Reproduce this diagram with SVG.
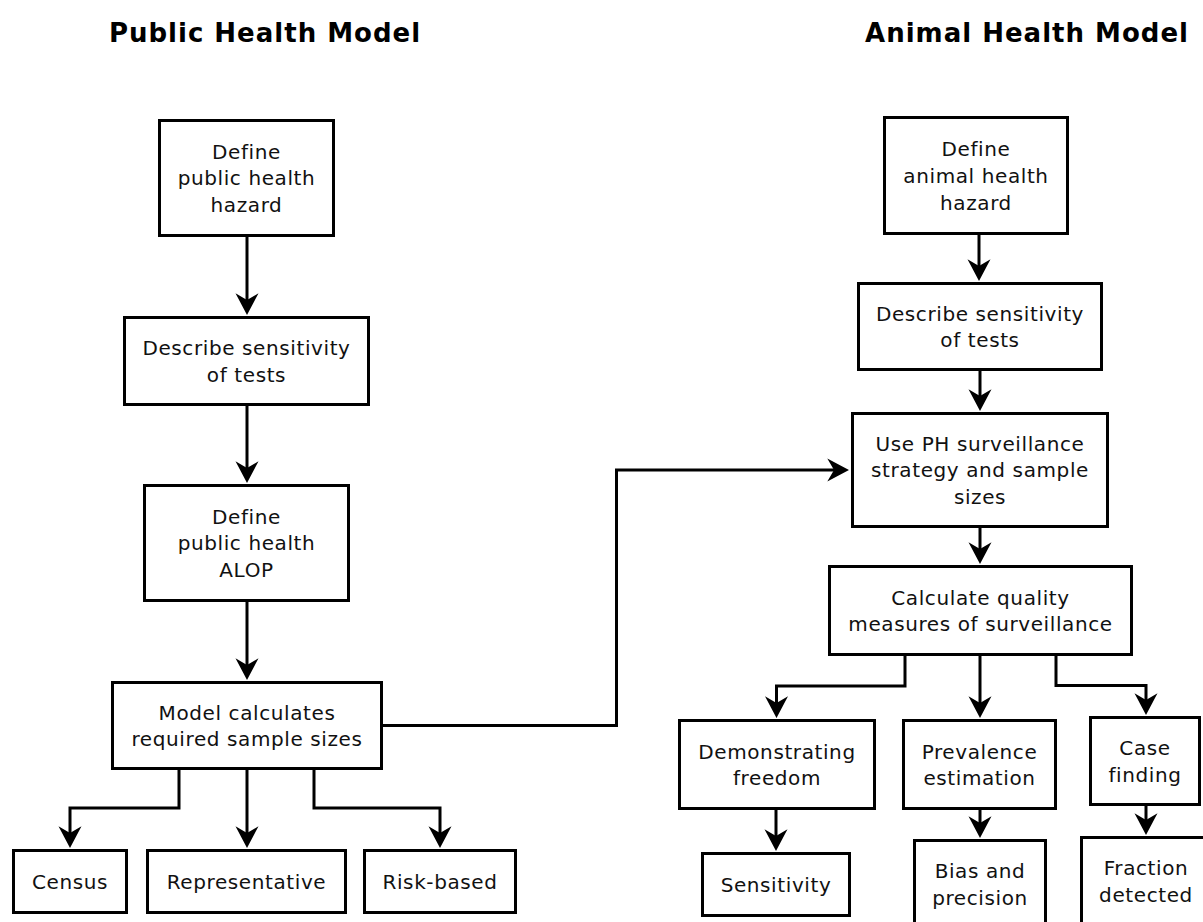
<svg xmlns="http://www.w3.org/2000/svg" xmlns:xlink="http://www.w3.org/1999/xlink" width="1203" height="922" viewBox="0 0 1203 922">
<style>
  .box { fill: #ffffff; stroke: #000000; stroke-width: 3; }
  .t { font-family: "DejaVu Sans", "Liberation Sans", sans-serif; font-size: 20px; letter-spacing: 0.6px; fill: #111111; text-anchor: middle; }
  .title { font-family: "DejaVu Sans", "Liberation Sans", sans-serif; font-size: 26px; font-weight: bold; letter-spacing: 1px; fill: #000000; text-anchor: middle; }
  .ln { fill: none; stroke: #000000; stroke-width: 3; stroke-linejoin: miter; }
  .ah { fill: #000000; stroke: none; }
</style>
<defs>
  <path id="ahd" class="ah" d="M0,0 L-11.5,-21.7 L0,-15 L11.5,-21.7 Z"/>
  <path id="ahr" class="ah" d="M0,0 L-21.7,-11.5 L-15,0 L-21.7,11.5 Z"/>
</defs>
<rect x="0" y="0" width="1203" height="922" fill="#ffffff"/>

<g id="titles">
  <text class="title" x="265" y="42">Public Health Model</text>
  <text class="title" x="1027" y="42">Animal Health Model</text>
</g>

<g id="connectors">
  <!-- left column -->
  <path class="ln" d="M247,237 V302"/>
  <use xlink:href="#ahd" x="247" y="315"/>
  <path class="ln" d="M247,406 V470"/>
  <use xlink:href="#ahd" x="247" y="483"/>
  <path class="ln" d="M247,602 V667"/>
  <use xlink:href="#ahd" x="247" y="680"/>
  <path class="ln" d="M179,770 V808 H70 V835"/>
  <use xlink:href="#ahd" x="70" y="848"/>
  <path class="ln" d="M247,770 V835"/>
  <use xlink:href="#ahd" x="247" y="848"/>
  <path class="ln" d="M314,770 V808 H440 V835"/>
  <use xlink:href="#ahd" x="440" y="848"/>
  <path class="ln" d="M383,725.5 H616.5 V470 H836"/>
  <use xlink:href="#ahr" x="849" y="470"/>
  <!-- right column -->
  <path class="ln" d="M979,235 V268"/>
  <use xlink:href="#ahd" x="979" y="281"/>
  <path class="ln" d="M980,371 V398"/>
  <use xlink:href="#ahd" x="980" y="411"/>
  <path class="ln" d="M980,528 V551"/>
  <use xlink:href="#ahd" x="980" y="564"/>
  <path class="ln" d="M905,656 V686 H776.5 V705"/>
  <use xlink:href="#ahd" x="776.5" y="718"/>
  <path class="ln" d="M980,656 V705"/>
  <use xlink:href="#ahd" x="980" y="718"/>
  <path class="ln" d="M1056,656 V685.5 H1146 V702"/>
  <use xlink:href="#ahd" x="1146" y="715"/>
  <path class="ln" d="M776,810 V838"/>
  <use xlink:href="#ahd" x="776" y="851"/>
  <path class="ln" d="M980,810 V825"/>
  <use xlink:href="#ahd" x="980" y="838"/>
  <path class="ln" d="M1146,806 V822"/>
  <use xlink:href="#ahd" x="1146" y="835"/>
</g>

<g id="ph-hazard">
  <rect class="box" x="159.5" y="120.5" width="174" height="115"/>
  <text class="t" x="246.5" y="158.6">Define</text>
  <text class="t" x="246.5" y="185.3">public health</text>
  <text class="t" x="246.5" y="212">hazard</text>
</g>
<g id="ph-sensitivity">
  <rect class="box" x="124.5" y="317.5" width="244" height="87"/>
  <text class="t" x="246.5" y="355">Describe sensitivity</text>
  <text class="t" x="246.5" y="381.7">of tests</text>
</g>
<g id="ph-alop">
  <rect class="box" x="144.5" y="485.5" width="204" height="115"/>
  <text class="t" x="246.5" y="523.6">Define</text>
  <text class="t" x="246.5" y="550.3">public health</text>
  <text class="t" x="246.5" y="577">ALOP</text>
</g>
<g id="ph-model">
  <rect class="box" x="112.5" y="682.5" width="269" height="86"/>
  <text class="t" x="247" y="719.5">Model calculates</text>
  <text class="t" x="247" y="746.2">required sample sizes</text>
</g>
<g id="census">
  <rect class="box" x="13.5" y="850.5" width="113" height="62"/>
  <text class="t" x="70" y="888.8">Census</text>
</g>
<g id="representative">
  <rect class="box" x="147.5" y="850.5" width="198" height="62"/>
  <text class="t" x="246.5" y="888.8">Representative</text>
</g>
<g id="risk-based">
  <rect class="box" x="364.5" y="850.5" width="151" height="62"/>
  <text class="t" x="440" y="888.8">Risk-based</text>
</g>

<g id="ah-hazard">
  <rect class="box" x="884.5" y="117.5" width="183" height="116"/>
  <text class="t" x="976" y="156.1">Define</text>
  <text class="t" x="976" y="182.8">animal health</text>
  <text class="t" x="976" y="209.5">hazard</text>
</g>
<g id="ah-sensitivity">
  <rect class="box" x="858.5" y="283.5" width="243" height="86"/>
  <text class="t" x="980" y="320.5">Describe sensitivity</text>
  <text class="t" x="980" y="347.2">of tests</text>
</g>
<g id="ah-use-ph">
  <rect class="box" x="852.5" y="413.5" width="255" height="113"/>
  <text class="t" x="980" y="450.6">Use PH surveillance</text>
  <text class="t" x="980" y="477.3">strategy and sample</text>
  <text class="t" x="980" y="504">sizes</text>
</g>
<g id="ah-quality">
  <rect class="box" x="829.5" y="566.5" width="302" height="88"/>
  <text class="t" x="980.5" y="604.5">Calculate quality</text>
  <text class="t" x="980.5" y="631.2">measures of surveillance</text>
</g>
<g id="freedom">
  <rect class="box" x="679.5" y="720.5" width="195" height="88"/>
  <text class="t" x="777" y="758.5">Demonstrating</text>
  <text class="t" x="777" y="785.2">freedom</text>
</g>
<g id="prevalence">
  <rect class="box" x="903.5" y="720.5" width="152" height="88"/>
  <text class="t" x="979.5" y="758.5">Prevalence</text>
  <text class="t" x="979.5" y="785.2">estimation</text>
</g>
<g id="case-finding">
  <rect class="box" x="1090.5" y="717.5" width="109" height="87"/>
  <text class="t" x="1145" y="755">Case</text>
  <text class="t" x="1145" y="781.7">finding</text>
</g>
<g id="sensitivity">
  <rect class="box" x="702.5" y="853.5" width="147" height="62"/>
  <text class="t" x="776" y="891.8">Sensitivity</text>
</g>
<g id="bias">
  <rect class="box" x="914.5" y="840.5" width="131" height="90"/>
  <text class="t" x="980" y="878.3">Bias and</text>
  <text class="t" x="980" y="905">precision</text>
</g>
<g id="fraction">
  <rect class="box" x="1081.5" y="837.5" width="130" height="90"/>
  <text class="t" x="1146" y="875">Fraction</text>
  <text class="t" x="1146" y="901.7">detected</text>
</g>
</svg>
